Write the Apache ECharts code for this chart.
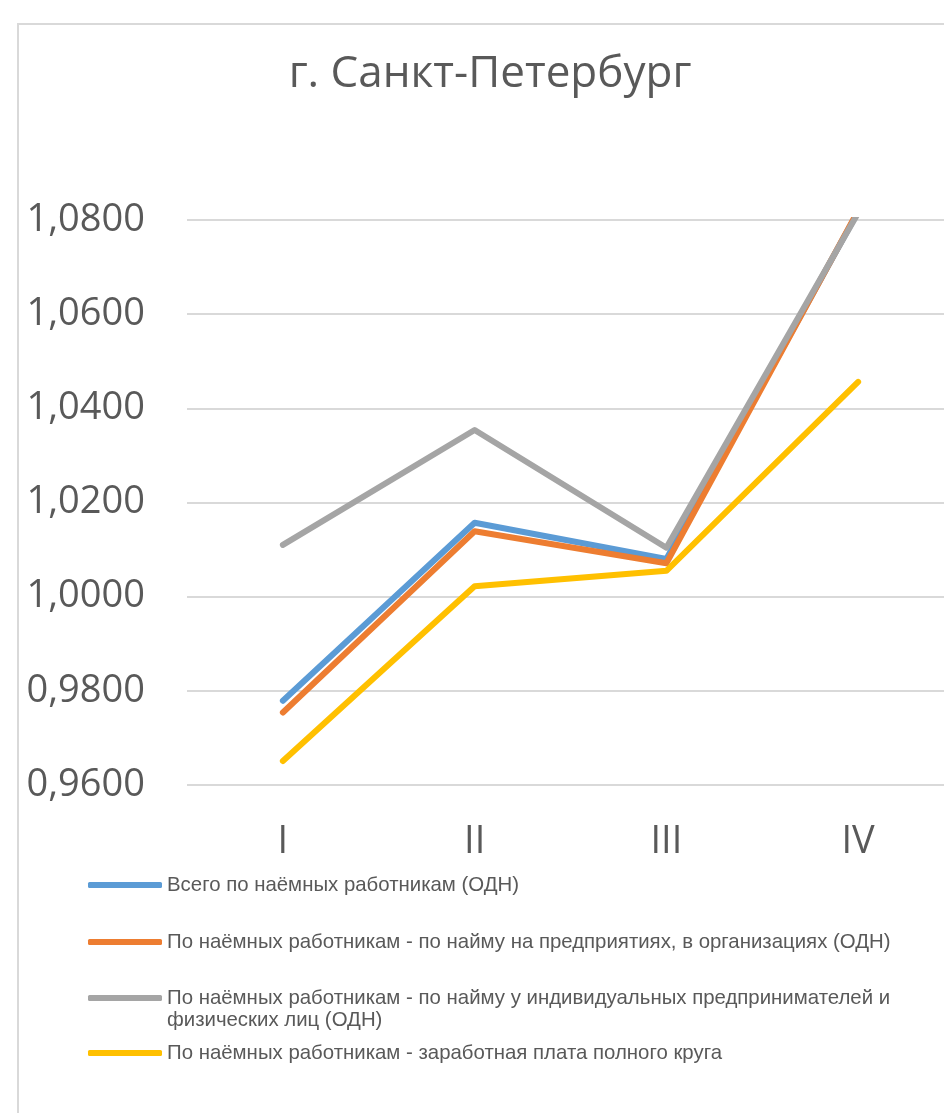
<!DOCTYPE html>
<html>
<head>
<meta charset="utf-8">
<script src="https://cdn.jsdelivr.net/npm/echarts@6/dist/echarts.min.js"></script>
<style>
  html, body { margin: 0; padding: 0; background: #fff; overflow: hidden; }
  /* the original chart is cut off on the right, so the canvas is a bit wider than the window */
  #chart { width: 960px; height: 1113px; }
</style>
</head>
<body>
<div id="chart"></div>
<script>
// квартальные индексы, г. Санкт-Петербург
const quarters = ['I', 'II', 'III', 'IV'];
const seriesNames = [
  'Всего по наёмных работникам (ОДН)',
  'По наёмных работникам - по найму на предприятиях, в организациях (ОДН)',
  'По наёмных работникам - по найму у индивидуальных предпринимателей и физических лиц (ОДН)',
  'По наёмных работникам - заработная плата полного круга'
];
const totalValues = [0.9779, 1.0157, 1.0080, 1.0818];
const orgValues = [0.9754, 1.0139, 1.0071, 1.0820];
const individualValues = [1.0110, 1.0354, 1.0104, 1.0815];
const fullWageValues = [0.9651, 1.0022, 1.0055, 1.0456];
const colors = ['#5B9BD5', '#ED7D31', '#A5A5A5', '#FFC000'];

const textColor = '#595959';
const baseFont = '"Open Sans", "Noto Sans", sans-serif';

const chart = echarts.init(document.getElementById('chart'));

// the long third name wraps; an empty first line keeps the swatch level with its first line
const legendTops = [874, 931, 965, 1042];
const legends = seriesNames.map((name, i) => ({
  data: [name],
  orient: 'vertical',
  left: 88,
  top: legendTops[i],
  padding: 0,
  itemWidth: 74,
  itemHeight: 6,
  selectedMode: false,
  icon: 'roundRect',
  formatter: (n) => (i === 2 ? '\n' + n.replace(' физических', '\nфизических') : n),
  textStyle: {
    color: textColor,
    fontFamily: '"Liberation Sans", sans-serif',
    fontSize: 20.4,
    lineHeight: 22
  }
}));

chart.setOption({
  animation: false,
  color: colors,
  title: {
    text: 'г. Санкт-Петербург',
    left: 485,
    top: 47,
    textAlign: 'center',
    textStyle: {
      color: textColor,
      fontFamily: baseFont,
      fontWeight: 'normal',
      fontSize: 44
    }
  },
  legend: legends,
  grid: {
    left: 187,
    top: 220,
    width: 767,
    height: 565,
    containLabel: false
  },
  xAxis: {
    type: 'category',
    data: quarters,
    boundaryGap: true,
    axisLine: { show: false },
    axisTick: { show: false },
    axisLabel: {
      color: textColor,
      fontFamily: baseFont,
      fontSize: 38,
      margin: 38
    }
  },
  yAxis: {
    type: 'value',
    min: 0.96,
    max: 1.08,
    interval: 0.02,
    axisLine: { show: false },
    axisTick: { show: false },
    splitLine: { lineStyle: { color: '#d9d9d9', width: 2 } },
    axisLabel: {
      color: textColor,
      fontFamily: baseFont,
      fontSize: 38,
      margin: 42,
      formatter: (v) => v.toFixed(4).replace('.', ',')
    }
  },
  series: [totalValues, orgValues, individualValues, fullWageValues].map((vals, i) => ({
    name: seriesNames[i],
    type: 'line',
    data: vals,
    symbol: 'none',
    lineStyle: { width: 6, color: colors[i], cap: 'round', join: 'round' },
    itemStyle: { color: colors[i] }
  })),
  graphic: [{
    type: 'rect',
    shape: { x: 18, y: 24, width: 1000, height: 1200 },
    style: { fill: 'none', stroke: '#d9d9d9', lineWidth: 2 },
    silent: true
  }]
});
</script>
</body>
</html>
